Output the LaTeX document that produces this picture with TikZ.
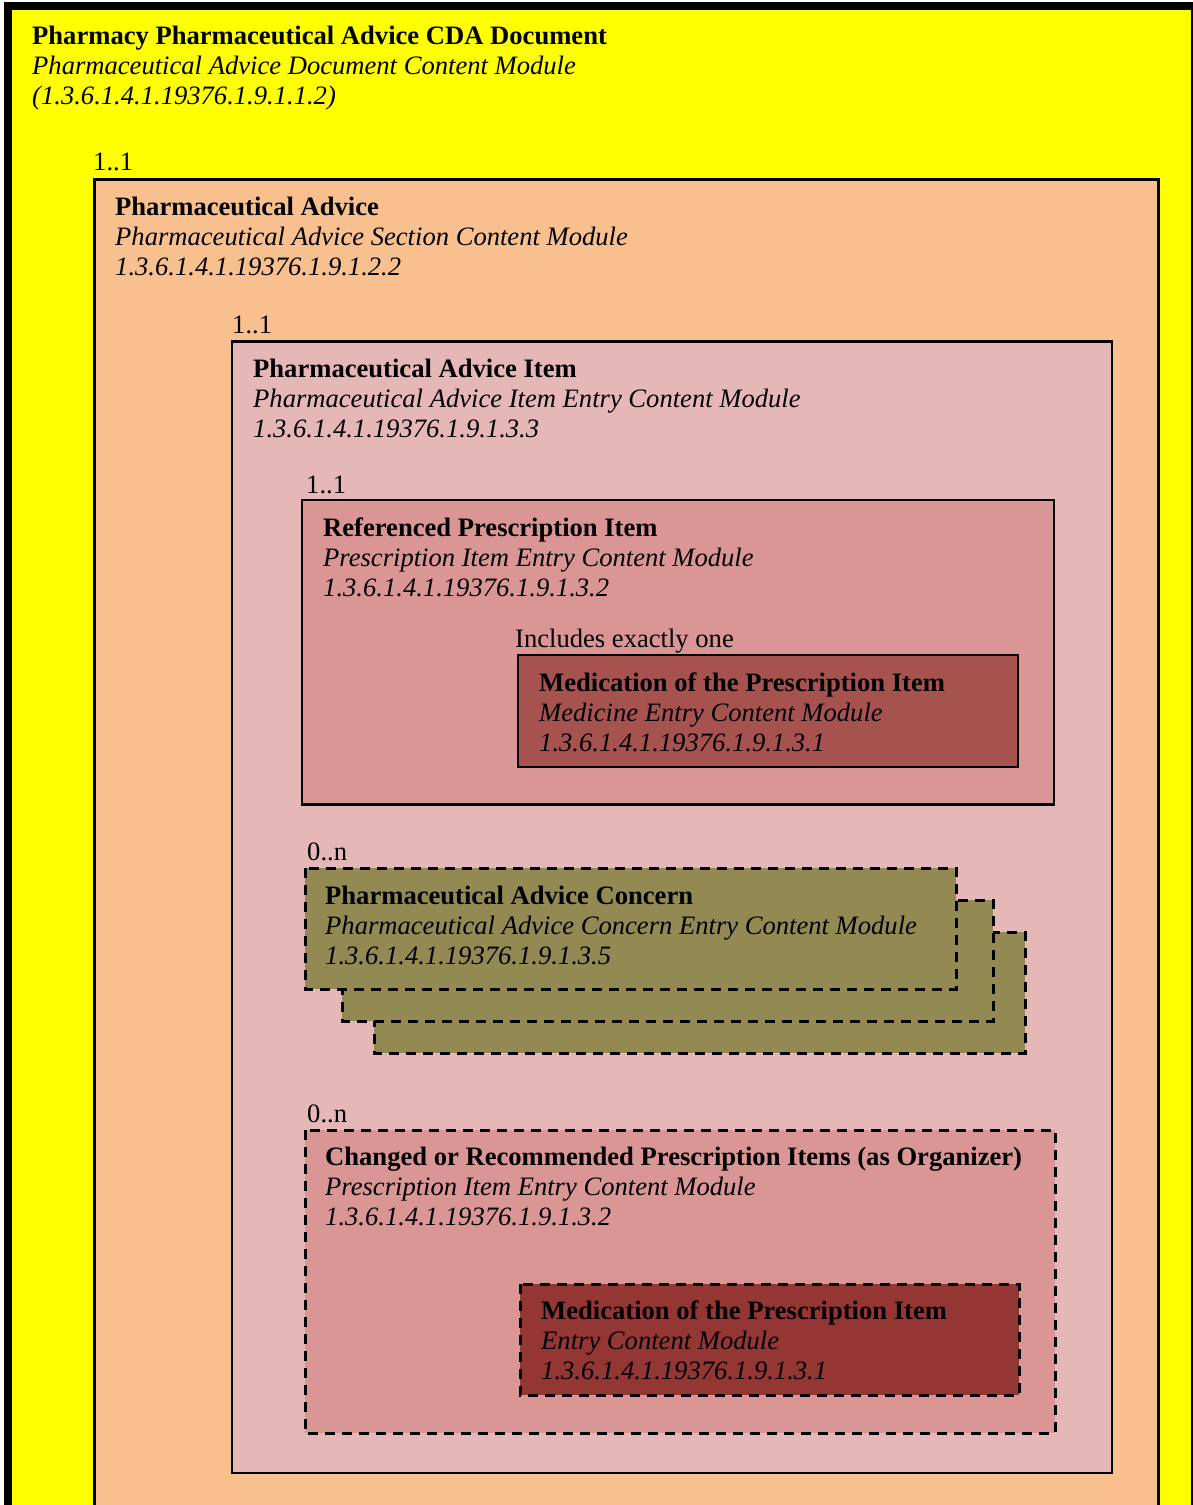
\documentclass[tikz,border=0pt]{standalone}
\usepackage{fontspec}
\setmainfont{Liberation Serif}
\definecolor{cyel}{HTML}{FFFF00}
\definecolor{corange}{HTML}{F9C08F}
\definecolor{cpink}{HTML}{E5B8B7}
\definecolor{cref}{HTML}{D99694}
\definecolor{cmed}{HTML}{A65350}
\definecolor{colive}{HTML}{938953}
\definecolor{cdred}{HTML}{943634}
\begin{document}
\begin{tikzpicture}[x=1pt,y=-1pt,
  txt/.style={anchor=base west, inner sep=0pt, font=\fontsize{26.6}{30}\selectfont},
  ttl/.style={txt, font=\fontsize{26.6}{30}\selectfont\bfseries},
  sub/.style={txt, font=\fontsize{26.6}{30}\selectfont\itshape},
  solidbox/.style={draw=black, line width=2.5pt},
  dashbox/.style={draw=black, line width=3pt, dash pattern=on 10pt off 7pt}]
\useasboundingbox (0,0) rectangle (1193,1505);
\fill[white] (0,0) rectangle (1193,1505);
\fill[black] (4,2) rectangle (1193,1505);
\fill[cyel] (12,10) rectangle (1191,1505);
% document level
\node[ttl] (t1a) at (32,44) {Pharmacy Pharmaceutical Advice CDA Document};
\node[sub] (t1b) at (32,74) {Pharmaceutical Advice Document Content Module};
\node[sub] (t1c) at (32,104) {(1.3.6.1.4.1.19376.1.9.1.1.2)};
\node[txt] (c1) at (93,170) {1..1};
% section
\fill[corange] (94.5,179.5) rectangle (1158,1505);
\draw[line width=3pt] (94.5,1506) -- (94.5,179.5) -- (1158,179.5) -- (1158,1506);
\node[ttl] (t2a) at (115,215) {Pharmaceutical Advice};
\node[sub] (t2b) at (115,245) {Pharmaceutical Advice Section Content Module};
\node[sub] (t2c) at (115,275) {1.3.6.1.4.1.19376.1.9.1.2.2};
\node[txt] (c2) at (232,333) {1..1};
% item
\draw[solidbox, fill=cpink] (232,341.5) rectangle (1112,1473);
\node[ttl] (t3a) at (253,377) {Pharmaceutical Advice Item};
\node[sub] (t3b) at (253,407) {Pharmaceutical Advice Item Entry Content Module};
\node[sub] (t3c) at (253,437) {1.3.6.1.4.1.19376.1.9.1.3.3};
\node[txt] (c3) at (306,493) {1..1};
% referenced prescription item
\draw[solidbox, fill=cref] (302,500) rectangle (1054,804.5);
\node[ttl] (t4a) at (323,536) {Referenced Prescription Item};
\node[sub] (t4b) at (323,566) {Prescription Item Entry Content Module};
\node[sub] (t4c) at (323,596) {1.3.6.1.4.1.19376.1.9.1.3.2};
\node[txt] (c4) at (515,647) {Includes exactly one};
\draw[solidbox, fill=cmed] (518,655) rectangle (1018,767);
\node[ttl] (t5a) at (539,691) {Medication of the Prescription Item};
\node[sub] (t5b) at (539,721) {Medicine Entry Content Module};
\node[sub] (t5c) at (539,751) {1.3.6.1.4.1.19376.1.9.1.3.1};
% concern stack
\node[txt] (c5) at (307,860) {0..n};
\draw[dashbox, fill=colive] (374,932) rectangle (1025,1053);
\draw[dashbox, fill=colive] (342,900) rectangle (993,1021);
\draw[dashbox, fill=colive] (305,868) rectangle (956,989);
\node[ttl] (t6a) at (325,904) {Pharmaceutical Advice Concern};
\node[sub] (t6b) at (325,934) {Pharmaceutical Advice Concern Entry Content Module};
\node[sub] (t6c) at (325,964) {1.3.6.1.4.1.19376.1.9.1.3.5};
% changed items
\node[txt] (c6) at (307,1122) {0..n};
\draw[dashbox, fill=cref] (305,1130) rectangle (1055,1433);
\node[ttl] (t7a) at (325,1165) {Changed or Recommended Prescription Items (as Organizer)};
\node[sub] (t7b) at (325,1195) {Prescription Item Entry Content Module};
\node[sub] (t7c) at (325,1225) {1.3.6.1.4.1.19376.1.9.1.3.2};
\draw[dashbox, fill=cdred] (520,1284) rectangle (1019,1395);
\node[ttl] (t8a) at (541,1319) {Medication of the Prescription Item};
\node[sub] (t8b) at (541,1349) {Entry Content Module};
\node[sub] (t8c) at (541,1379) {1.3.6.1.4.1.19376.1.9.1.3.1};
\end{tikzpicture}
\end{document}
